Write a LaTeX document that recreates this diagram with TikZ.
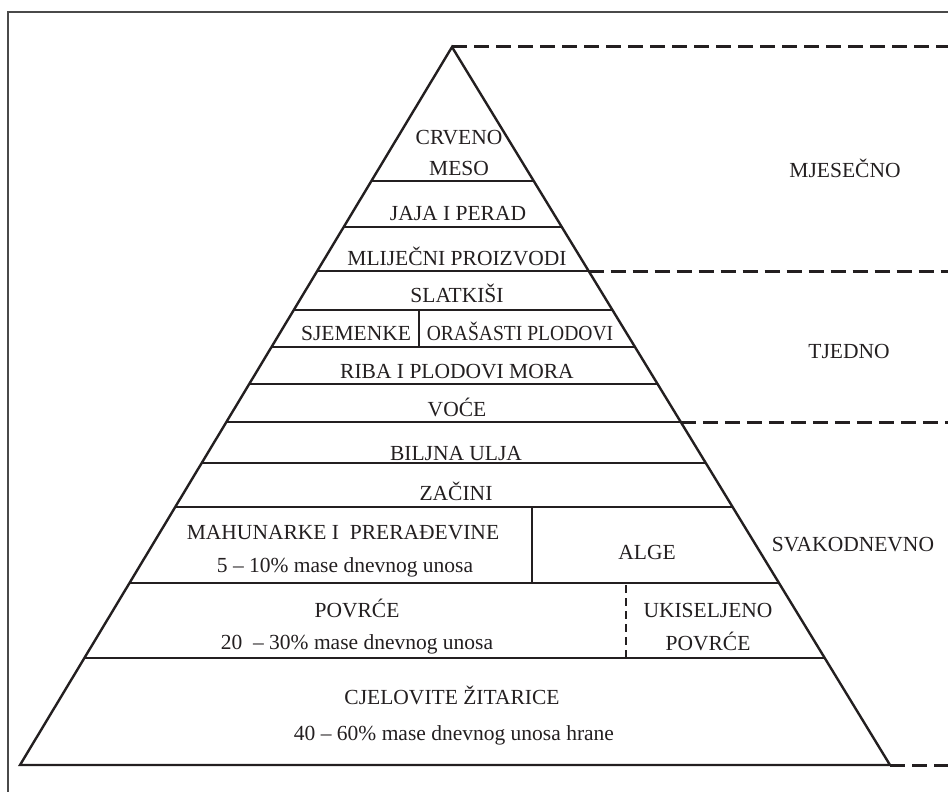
\documentclass[tikz,border=0pt]{standalone}
\usepackage{fontspec}
\setmainfont{Liberation Serif}
\usetikzlibrary{calc}
\definecolor{ink}{HTML}{231F20}
\definecolor{framec}{HTML}{4A4A4A}
\begin{document}
\begin{tikzpicture}[x=1pt,y=-1pt,
  lbl/.style={anchor=base, font=\fontsize{21.5}{24}\selectfont, text=ink, inner sep=0pt},
  edgeline/.style={draw=ink, line width=2.4pt, line join=miter},
  sepline/.style={draw=ink, line width=2.2pt},
  leveldash/.style={draw=ink, line width=3pt, dash pattern=on 15pt off 7pt},
  vdash/.style={draw=ink, line width=2.6pt, dash pattern=on 8pt off 5pt}]
\useasboundingbox (0,0) rectangle (948,792);
% frame (cropped)
\draw[framec, line width=1.8pt] (8,800) -- (8,12) -- (960,12);
% pyramid corners
\coordinate (A) at (452,47);
\coordinate (BL) at (20,765);
\coordinate (BR) at (890,765);
\coordinate (E) at (948,47);
% horizontal layer lines
\foreach \n/\t in {1/0.1866,2/0.2507,3/0.3120,4/0.3663,5/0.4178,6/0.4694,7/0.5223,8/0.5794,9/0.6407,10/0.7465,11/0.8510}{
  \coordinate (L\n) at ($(A)!\t!(BL)$);
  \coordinate (R\n) at ($(A)!\t!(BR)$);
  \draw[sepline] (L\n) -- (R\n);
}
\draw[edgeline] (BR) -- (A) -- (BL) -- (BR);
% vertical separators
\coordinate (s1) at (419,310);
\coordinate (s2) at (419,347);
\draw[sepline] (s1) -- (s2);
\coordinate (a1) at (532,507);
\coordinate (a2) at (532,582);
\draw[sepline] (a1) -- (a2);
\coordinate (u1) at (626,585);
\coordinate (u2) at (626,658);
\draw[vdash] (u1) -- (u2);
% dashed frequency boundaries
\draw[leveldash] (A) -- (E);
\draw[leveldash] (R3) -- (R3 -| E);
\draw[leveldash] (R7) -- (R7 -| E);
\draw[leveldash] (BR) -- (BR -| E);
% labels inside pyramid
\node[lbl] (crveno) at (459,144) {CRVENO};
\node[lbl] (meso) at (459,175) {MESO};
\node[lbl] (jaja) at (458,220) {JAJA I PERAD};
\node[lbl] (mlij) at (457,265) {MLIJEČNI PROIZVODI};
\node[lbl] (slat) at (457,302) {SLATKIŠI};
\node[lbl] (sjem) at (356,340) {SJEMENKE};
\node[lbl] (oras) at (520,340) {\scalebox{0.91}[1]{ORAŠASTI PLODOVI}};
\node[lbl] (riba) at (457,378) {RIBA I PLODOVI MORA};
\node[lbl] (voce) at (457,416) {VOĆE};
\node[lbl] (ulja) at (456,460) {BILJNA ULJA};
\node[lbl] (zacini) at (456,500) {ZAČINI};
\node[lbl] (mahun) at (343,539) {MAHUNARKE I\ \ PRERAĐEVINE};
\node[lbl] (mahunp) at (345,572) {5 -- 10\% mase dnevnog unosa};
\node[lbl] (alge) at (647,559) {ALGE};
\node[lbl] (povrce) at (357,617) {POVRĆE};
\node[lbl] (povrcep) at (357,649) {20\ \ -- 30\% mase dnevnog unosa};
\node[lbl] (ukis) at (708,617) {UKISELJENO};
\node[lbl] (ukis2) at (708,650) {POVRĆE};
\node[lbl] (zit) at (452,704) {CJELOVITE ŽITARICE};
\node[lbl] (zitp) at (454,740) {40 -- 60\% mase dnevnog unosa hrane};
% frequency labels
\node[lbl] (mjes) at (845,177) {MJESEČNO};
\node[lbl] (tjed) at (849,358) {TJEDNO};
\node[lbl] (svak) at (853,551) {SVAKODNEVNO};
\end{tikzpicture}
\end{document}
